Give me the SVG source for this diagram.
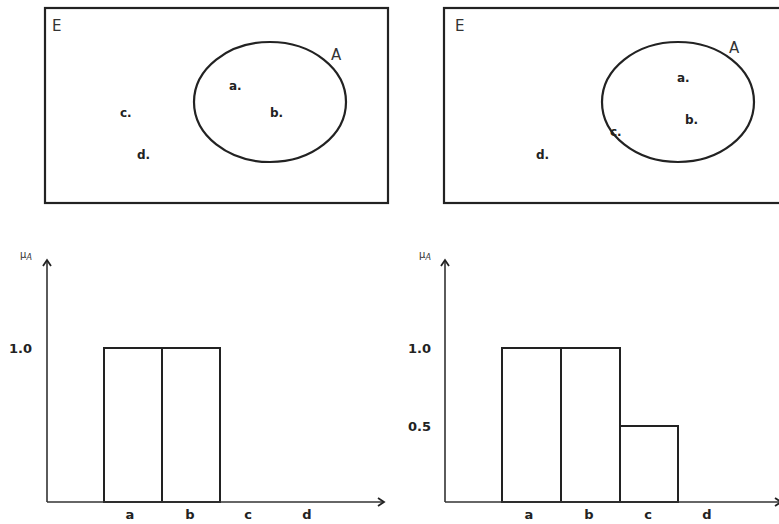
<svg xmlns="http://www.w3.org/2000/svg" width="779" height="524" viewBox="0 0 779 524">
<style>
.frame{fill:none;stroke:#222;stroke-width:2.2}
.set{fill:none;stroke:#222;stroke-width:2.2}
.pt{font-family:"DejaVu Sans",sans-serif;font-size:12px;font-weight:bold;fill:#222}
.nm{font-family:"DejaVu Sans",sans-serif;font-size:15px;fill:#333}
.ax{fill:none;stroke:#333;stroke-width:1.6}
.bar{fill:none;stroke:#222;stroke-width:2}
.tick{font-family:"DejaVu Sans",sans-serif;font-size:13px;font-weight:bold;fill:#222}
.mu{font-family:"DejaVu Sans",sans-serif;font-size:10px;fill:#333}
</style>
<defs>
<marker id="arr" markerWidth="10" markerHeight="10" refX="8" refY="5" orient="auto" markerUnits="userSpaceOnUse">
<polyline points="2,1 8,5 2,9" fill="none" stroke="#222" stroke-width="1.8"/>
</marker>
</defs>
<g id="venn-left">
<rect class="frame" x="45" y="8" width="343" height="195"/>
<ellipse class="set" cx="270" cy="102" rx="76" ry="60"/>
<text class="nm" x="52" y="31">E</text>
<text class="nm" x="331" y="60">A</text>
<text class="pt" x="229" y="90">a.</text>
<text class="pt" x="270" y="117">b.</text>
<text class="pt" x="120" y="117">c.</text>
<text class="pt" x="137" y="159">d.</text>
</g>
<g id="venn-right">
<rect class="frame" x="444" y="8" width="340" height="195"/>
<ellipse class="set" cx="678" cy="102" rx="76" ry="60"/>
<text class="nm" x="455" y="31">E</text>
<text class="nm" x="729" y="53">A</text>
<text class="pt" x="677" y="82">a.</text>
<text class="pt" x="685" y="124">b.</text>
<text class="pt" x="610" y="136">c.</text>
<text class="pt" x="536" y="159">d.</text>
</g>
<g id="chart-left">
<text class="mu" x="20" y="258">μ<tspan font-style="italic" font-size="8" dy="2">A</tspan></text>
<text class="tick" x="9" y="353">1.0</text>
<rect class="bar" x="104" y="348" width="58" height="154"/>
<rect class="bar" x="162" y="348" width="58" height="154"/>
<text class="tick" x="130" y="519" text-anchor="middle">a</text>
<text class="tick" x="190" y="519" text-anchor="middle">b</text>
<text class="tick" x="248" y="519" text-anchor="middle">c</text>
<text class="tick" x="307" y="519" text-anchor="middle">d</text>
</g>
<g id="chart-right">
<text class="mu" x="419" y="258">μ<tspan font-style="italic" font-size="8" dy="2">A</tspan></text>
<text class="tick" x="408" y="353">1.0</text>
<text class="tick" x="408" y="431">0.5</text>
<rect class="bar" x="502" y="348" width="59" height="154"/>
<rect class="bar" x="561" y="348" width="59" height="154"/>
<rect class="bar" x="620" y="426" width="58" height="76"/>
<text class="tick" x="529" y="519" text-anchor="middle">a</text>
<text class="tick" x="589" y="519" text-anchor="middle">b</text>
<text class="tick" x="648" y="519" text-anchor="middle">c</text>
<text class="tick" x="707" y="519" text-anchor="middle">d</text>
</g>
<g id="connectors">
<line class="ax" x1="47" y1="502" x2="47" y2="260" marker-end="url(#arr)"/>
<line class="ax" x1="47" y1="502" x2="384" y2="502" marker-end="url(#arr)"/>
<line class="ax" x1="445" y1="502" x2="445" y2="260" marker-end="url(#arr)"/>
<line class="ax" x1="445" y1="502" x2="781" y2="502" marker-end="url(#arr)"/>
</g>
</svg>
